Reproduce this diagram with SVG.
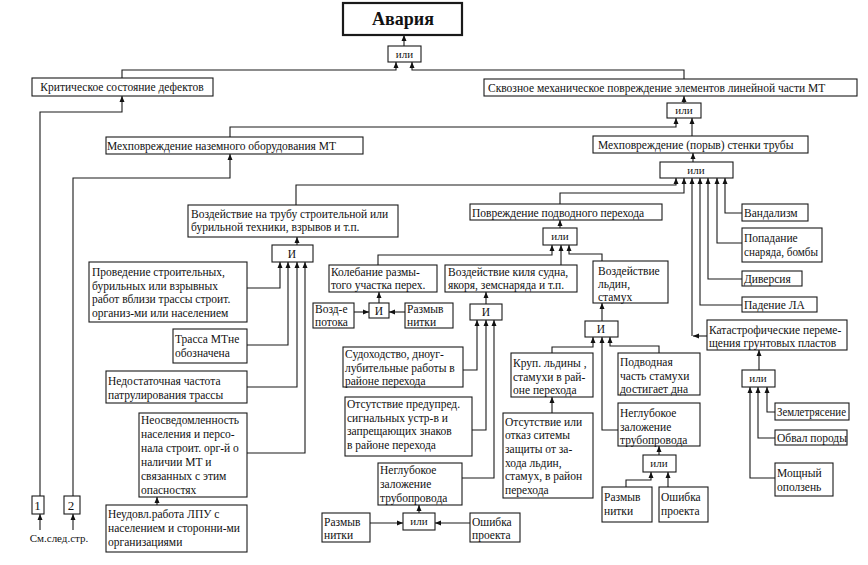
<svg xmlns="http://www.w3.org/2000/svg" width="868" height="565" viewBox="0 0 868 565">
<style>
.b{fill:#fff;stroke:#1a1a1a;stroke-width:1.1}
.t{font-family:"Liberation Serif","Times New Roman",serif;font-size:11.5px;fill:#111}
.g{font-family:"Liberation Serif","Times New Roman",serif;font-size:11px;fill:#111;text-anchor:middle}
.m{text-anchor:middle}
.c{fill:none;stroke:#1a1a1a;stroke-width:1.1;marker-end:url(#a)}
</style>
<defs>
<marker id="a" markerUnits="userSpaceOnUse" markerWidth="6" markerHeight="6" refX="6" refY="3" orient="auto">
<path d="M0,0.5 L6,3 L0,5.5 z" fill="#111"/>
</marker>
</defs>
<rect width="868" height="565" fill="#fff"/>
<g id="connectors">
<path class="c" d="M404,46 V35"/>
<path class="c" d="M122,78 V70 H396 V62"/>
<path class="c" d="M684,79 V70 H412 V62"/>
<path class="c" d="M684,103 V96"/>
<path class="c" d="M230,137 V127 H676 V118"/>
<path class="c" d="M692,136 V118"/>
<path class="c" d="M693,162 V153"/>
<path class="c" d="M40,496 V112 H122 V96"/>
<path class="c" d="M73,496 V178 H230 V154"/>
<path class="c" d="M40,530 V514"/>
<path class="c" d="M73,530 V514"/>
<path class="c" d="M296,205 V185 H676 V178"/>
<path class="c" d="M560,204 V193 H684 V178"/>
<path class="c" d="M707,336 H693"/>
<path class="c" d="M692,336 V178"/>
<path class="c" d="M742,305 H700 V178"/>
<path class="c" d="M742,279 H708 V178"/>
<path class="c" d="M742,243 H717 V178"/>
<path class="c" d="M742,213 H725 V178"/>
<path class="c" d="M297,245 V237"/>
<path class="c" d="M247,288 H280 V262"/>
<path class="c" d="M247,345 H288 V262"/>
<path class="c" d="M247,387 H297 V262"/>
<path class="c" d="M247,453 H305 V262"/>
<path class="c" d="M157,505 V497"/>
<path class="c" d="M560,228 V220"/>
<path class="c" d="M378,265 V255 H552 V245"/>
<path class="c" d="M561,265 V245"/>
<path class="c" d="M602,261 V254 H569 V245"/>
<path class="c" d="M379,303 V292"/>
<path class="c" d="M354,312 H369"/>
<path class="c" d="M405,312 H389"/>
<path class="c" d="M486,304 V292"/>
<path class="c" d="M463,370 H477 V320"/>
<path class="c" d="M472,430 H486 V320"/>
<path class="c" d="M462,478 H494 V320"/>
<path class="c" d="M419,513 V505"/>
<path class="c" d="M370,523 H403"/>
<path class="c" d="M470,523 H435"/>
<path class="c" d="M602,321 V303"/>
<path class="c" d="M552,353 V347 H593 V337"/>
<path class="c" d="M618,430 H602 V337"/>
<path class="c" d="M659,353 V346 H610 V337"/>
<path class="c" d="M552,413 V397"/>
<path class="c" d="M659,455 V446"/>
<path class="c" d="M626,487 V480 H651 V472"/>
<path class="c" d="M668,487 V472"/>
<path class="c" d="M759,370 V350"/>
<path class="c" d="M775,412 H767 V387"/>
<path class="c" d="M775,438 H758 V387"/>
<path class="c" d="M775,478 H750 V387"/>
</g>
<g id="n_avaria"><rect class="b" x="343" y="3" width="119" height="32" style="stroke-width:2.2"/><text class="t m" x="403" y="25" style="font-size:18px;font-weight:bold">Авария</text></g>
<g id="n_or1"><rect class="b" x="388" y="46" width="33" height="16"/><text class="g" x="404.5" y="58">или</text></g>
<g id="n_krit"><rect class="b" x="32" y="78" width="181" height="18"/><text class="t m" x="122" y="91">Критическое состояние дефектов</text></g>
<g id="n_skvoz"><rect class="b" x="484" y="79" width="373" height="17"/><text class="t" x="488" y="92">Сквозное механическое повреждение элементов  линейной части МТ</text></g>
<g id="n_or2"><rect class="b" x="667" y="103" width="34" height="15"/><text class="g" x="684" y="114">или</text></g>
<g id="n_mehnaz"><rect class="b" x="106" y="137" width="257" height="17"/><text class="t" x="107" y="150">Мехповреждение  наземного оборудования МТ</text></g>
<g id="n_mehpor"><rect class="b" x="593" y="136" width="215" height="17"/><text class="t" x="598" y="149">Мехповреждение (порыв) стенки трубы</text></g>
<g id="n_or3"><rect class="b" x="660" y="162" width="73" height="16"/><text class="g" x="696" y="174">или</text></g>
<g id="n_vozdtr"><rect class="b" x="188" y="205" width="210" height="32"/><text class="t" x="191" y="218">Воздействие на трубу строительной или<tspan x="191" y="231">бурильной техники, взрывов и т.п.</tspan></text></g>
<g id="n_and1"><rect class="b" x="272" y="245" width="41" height="17"/><text class="t m" x="292" y="258">И</text></g>
<g id="n_proved"><rect class="b" x="89" y="262" width="158" height="60"/><text class="t" x="92" y="276">Проведение строительных,<tspan x="92" y="289.5">бурильных или взрывных</tspan><tspan x="92" y="303">работ вблизи трассы строит.</tspan><tspan x="92" y="316.5">организ-ми или населением</tspan></text></g>
<g id="n_trassa"><rect class="b" x="173" y="329" width="74" height="34"/><text class="t" x="175" y="343">Трасса МТне<tspan x="175" y="357">обозначена</tspan></text></g>
<g id="n_nedost"><rect class="b" x="106" y="371" width="141" height="32"/><text class="t" x="108" y="385">Недостаточная частота<tspan x="108" y="399">патрулирования трассы</tspan></text></g>
<g id="n_neosv"><rect class="b" x="139" y="413" width="108" height="84"/><text class="t" x="141" y="424">Неосведомленность<tspan x="141" y="438">населения и персо-</tspan><tspan x="141" y="452">нала строит. орг-й  о</tspan><tspan x="141" y="466">наличии МТ и</tspan><tspan x="141" y="480">связанных  с этим</tspan><tspan x="141" y="494">опасностях</tspan></text></g>
<g id="n_neud"><rect class="b" x="106" y="505" width="141" height="47"/><text class="t" x="108" y="518">Неудовл.работа ЛПУ с<tspan x="108" y="532">населением и сторонни-ми</tspan><tspan x="108" y="546">организациями</tspan></text></g>
<g id="n_1"><rect class="b" x="32" y="496" width="12" height="18"/><text class="t m" x="37.5" y="510" style="font-size:13px">1</text></g>
<g id="n_2"><rect class="b" x="64" y="496" width="16" height="18"/><text class="t m" x="71" y="510" style="font-size:13px">2</text></g>
<g id="n_see"><text class="t m" x="59" y="542" style="font-size:11px">См.след.стр.</text></g>
<g id="n_povr"><rect class="b" x="470" y="204" width="192" height="16"/><text class="t" x="472" y="217">Повреждение подводного перехода</text></g>
<g id="n_or4"><rect class="b" x="543" y="228" width="34" height="17"/><text class="g" x="560" y="240">или</text></g>
<g id="n_koleb"><rect class="b" x="329" y="265" width="108" height="27"/><text class="t" x="331" y="276">Колебание размы-<tspan x="331" y="289">того участка перех.</tspan></text></g>
<g id="n_kil"><rect class="b" x="445" y="265" width="132" height="27"/><text class="t" x="448" y="276">Воздействие киля судна,<tspan x="448" y="289">якоря, земснаряда и т.п.</tspan></text></g>
<g id="n_ldin"><rect class="b" x="593" y="261" width="75" height="42"/><text class="t" x="598" y="275">Воздействие<tspan x="598" y="288">льдин,</tspan><tspan x="598" y="301">стамух</tspan></text></g>
<g id="n_and2"><rect class="b" x="369" y="303" width="20" height="15"/><text class="t m" x="379" y="315">И</text></g>
<g id="n_potok"><rect class="b" x="313" y="303" width="41" height="25"/><text class="t" x="315" y="313">Возд-е<tspan x="315" y="326">потока</tspan></text></g>
<g id="n_razm1"><rect class="b" x="405" y="303" width="48" height="25"/><text class="t" x="407" y="313">Размыв<tspan x="407" y="326">нитки</tspan></text></g>
<g id="n_and3"><rect class="b" x="470" y="304" width="32" height="16"/><text class="t m" x="486" y="316">И</text></g>
<g id="n_sudo"><rect class="b" x="343" y="347" width="120" height="40"/><text class="t" x="345" y="358">Судоходство, дноуг-<tspan x="345" y="372">лубительные работы в</tspan><tspan x="345" y="385">районе перехода</tspan></text></g>
<g id="n_otspr"><rect class="b" x="345" y="397" width="127" height="59"/><text class="t" x="347" y="408">Отсутствие предупред.<tspan x="347" y="422">сигнальных устр-в  и</tspan><tspan x="347" y="435">запрещающих знаков</tspan><tspan x="347" y="449">в районе перехода</tspan></text></g>
<g id="n_negl1"><rect class="b" x="378" y="463" width="84" height="42"/><text class="t" x="380" y="474">Неглубокое<tspan x="380" y="488">заложение</tspan><tspan x="380" y="502">трубопровода</tspan></text></g>
<g id="n_or5"><rect class="b" x="403" y="513" width="32" height="17"/><text class="g" x="419" y="525">или</text></g>
<g id="n_razm2"><rect class="b" x="322" y="513" width="48" height="29"/><text class="t" x="324" y="526">Размыв<tspan x="324" y="539">нитки</tspan></text></g>
<g id="n_osh1"><rect class="b" x="470" y="513" width="50" height="29"/><text class="t" x="472" y="526">Ошибка<tspan x="472" y="539">проекта</tspan></text></g>
<g id="n_and4"><rect class="b" x="585" y="321" width="33" height="16"/><text class="t m" x="601" y="333">И</text></g>
<g id="n_krup"><rect class="b" x="511" y="353" width="82" height="44"/><text class="t" x="513" y="367">Круп. льдины ,<tspan x="513" y="381">стамухи в рай-</tspan><tspan x="513" y="394">оне перехода</tspan></text></g>
<g id="n_podv"><rect class="b" x="618" y="353" width="82" height="42"/><text class="t" x="620" y="366">Подводная<tspan x="620" y="380">часть стамухи</tspan><tspan x="620" y="393">достигает дна</tspan></text></g>
<g id="n_otsotk"><rect class="b" x="503" y="413" width="90" height="85"/><text class="t" x="505" y="426">Отсутствие или<tspan x="505" y="439">отказ ситемы</tspan><tspan x="505" y="453">защиты от за-</tspan><tspan x="505" y="467">хода  льдин,</tspan><tspan x="505" y="480">стамух, в район</tspan><tspan x="505" y="494">перехода</tspan></text></g>
<g id="n_negl2"><rect class="b" x="618" y="403" width="82" height="43"/><text class="t" x="620" y="417">Неглубокое<tspan x="620" y="431">заложение</tspan><tspan x="620" y="444">трубопровода</tspan></text></g>
<g id="n_or6"><rect class="b" x="643" y="455" width="33" height="17"/><text class="g" x="659" y="467">или</text></g>
<g id="n_razm3"><rect class="b" x="602" y="487" width="50" height="35"/><text class="t" x="604" y="501">Размыв<tspan x="604" y="515">нитки</tspan></text></g>
<g id="n_osh2"><rect class="b" x="659" y="487" width="49" height="35"/><text class="t" x="661" y="501">Ошибка<tspan x="661" y="515">проекта</tspan></text></g>
<g id="n_vand"><rect class="b" x="742" y="204" width="66" height="17"/><text class="t" x="744" y="217">Вандализм</text></g>
<g id="n_popad"><rect class="b" x="742" y="228" width="80" height="34"/><text class="t" x="744" y="242">Попадание<tspan x="744" y="256" textLength="74" lengthAdjust="spacingAndGlyphs">снаряда, бомбы</tspan></text></g>
<g id="n_divers"><rect class="b" x="742" y="271" width="60" height="15"/><text class="t" x="744" y="283">Диверсия</text></g>
<g id="n_padla"><rect class="b" x="742" y="297" width="75" height="15"/><text class="t" x="744" y="309">Падение ЛА</text></g>
<g id="n_katas"><rect class="b" x="707" y="320" width="140" height="30"/><text class="t" x="709" y="334">Катастрофические переме-<tspan x="709" y="347">щения грунтовых пластов</tspan></text></g>
<g id="n_or7"><rect class="b" x="742" y="370" width="33" height="17"/><text class="g" x="758" y="382">или</text></g>
<g id="n_zemlet"><rect class="b" x="775" y="403" width="74" height="17"/><text class="t" x="777" y="416" textLength="69" lengthAdjust="spacingAndGlyphs">Землетрясение</text></g>
<g id="n_obval"><rect class="b" x="775" y="430" width="72" height="15"/><text class="t" x="777" y="442">Обвал породы</text></g>
<g id="n_opolz"><rect class="b" x="775" y="463" width="58" height="33"/><text class="t" x="777" y="477">Мощный<tspan x="777" y="491">оползень</tspan></text></g>
</svg>
